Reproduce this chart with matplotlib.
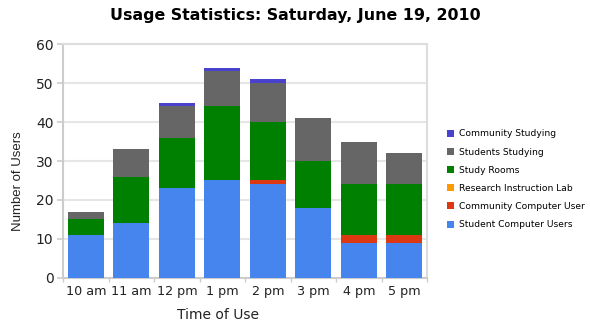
import numpy as np
import matplotlib.pyplot as plt

times = ['10 am', '11 am', '12 pm', '1 pm', '2 pm', '3 pm', '4 pm', '5 pm']

student_computer = [11, 14, 23, 25, 24, 18, 9, 9]
community_computer = [0, 0, 0, 0, 1, 0, 2, 2]
research_lab = [0, 0, 0, 0, 0, 0, 0, 0]
study_rooms = [4, 12, 13, 19, 15, 12, 13, 13]
students_studying = [2, 7, 8, 9, 10, 11, 11, 8]
community_studying = [0, 0, 1, 1, 1, 0, 0, 0]

series = [
    ('Student Computer Users', student_computer, '#4684ee'),
    ('Community Computer User', community_computer, '#dc3912'),
    ('Research Instruction Lab', research_lab, '#ff9900'),
    ('Study Rooms', study_rooms, '#008000'),
    ('Students Studying', students_studying, '#666666'),
    ('Community Studying', community_studying, '#4942cc'),
]

fig = plt.figure(figsize=(5.9, 3.32), dpi=100)
ax = fig.add_axes([0.107, 0.163, 0.617, 0.704])

x = np.arange(len(times))
bottom = np.zeros(len(times))
handles = []
for label, vals, color in series:
    vals = np.array(vals, dtype=float)
    h = ax.bar(x, vals, bottom=bottom, width=0.79, color=color, label=label, zorder=3)
    # hide empty segments so they leave no hairline
    for rect, v in zip(h, vals):
        if v == 0:
            rect.set_visible(False)
    handles.append(h)
    bottom += vals

ax.set_xlim(-0.5, len(times) - 0.5)
ax.set_ylim(0, 60)
ax.set_yticks(range(0, 61, 10))
ax.set_xticks(x)
ax.set_xticklabels(times)
ax.set_xticks(np.arange(len(times) + 1) - 0.5, minor=True)
ax.tick_params(axis='x', which='major', length=0, pad=5, labelsize=9.2)
ax.tick_params(axis='x', which='minor', length=3, color='#cccccc', width=1)
ax.tick_params(axis='y', length=4, color='#cccccc', width=1.2, pad=3, labelsize=10)
ax.tick_params(axis='both', labelcolor='#222222')
ax.yaxis.grid(True, color='#e6e6e6', linewidth=1.5, zorder=0)

for side in ['top', 'right', 'bottom', 'left']:
    ax.spines[side].set_color('#dddddd')
    ax.spines[side].set_linewidth(1.5)
ax.spines['left'].set_color('#cccccc')
ax.spines['bottom'].set_color('#cccccc')

fig.text(218 / 590, 1 - 315 / 332, 'Time of Use', fontsize=10, color='#222222',
         ha='center', va='center')
fig.text(18 / 590, 1 - 181 / 332, 'Number of Users', fontsize=9.5,
         family='Liberation Sans', color='#222222', rotation=90,
         ha='center', va='center')

fig.suptitle('Usage Statistics: Saturday, June 19, 2010', x=0.5, y=0.975,
             fontsize=11.4, fontweight='bold')

leg = fig.legend(handles[::-1], [s[0] for s in series][::-1],
                 loc='center left', bbox_to_anchor=(0.751, 0.46), frameon=False,
                 fontsize=6.6, handlelength=0.8, handleheight=0.8,
                 labelspacing=1.0, handletextpad=0.5, borderaxespad=0)
for patch in leg.get_patches():
    patch.set_visible(True)

fig.savefig('out.png', dpi=100)
